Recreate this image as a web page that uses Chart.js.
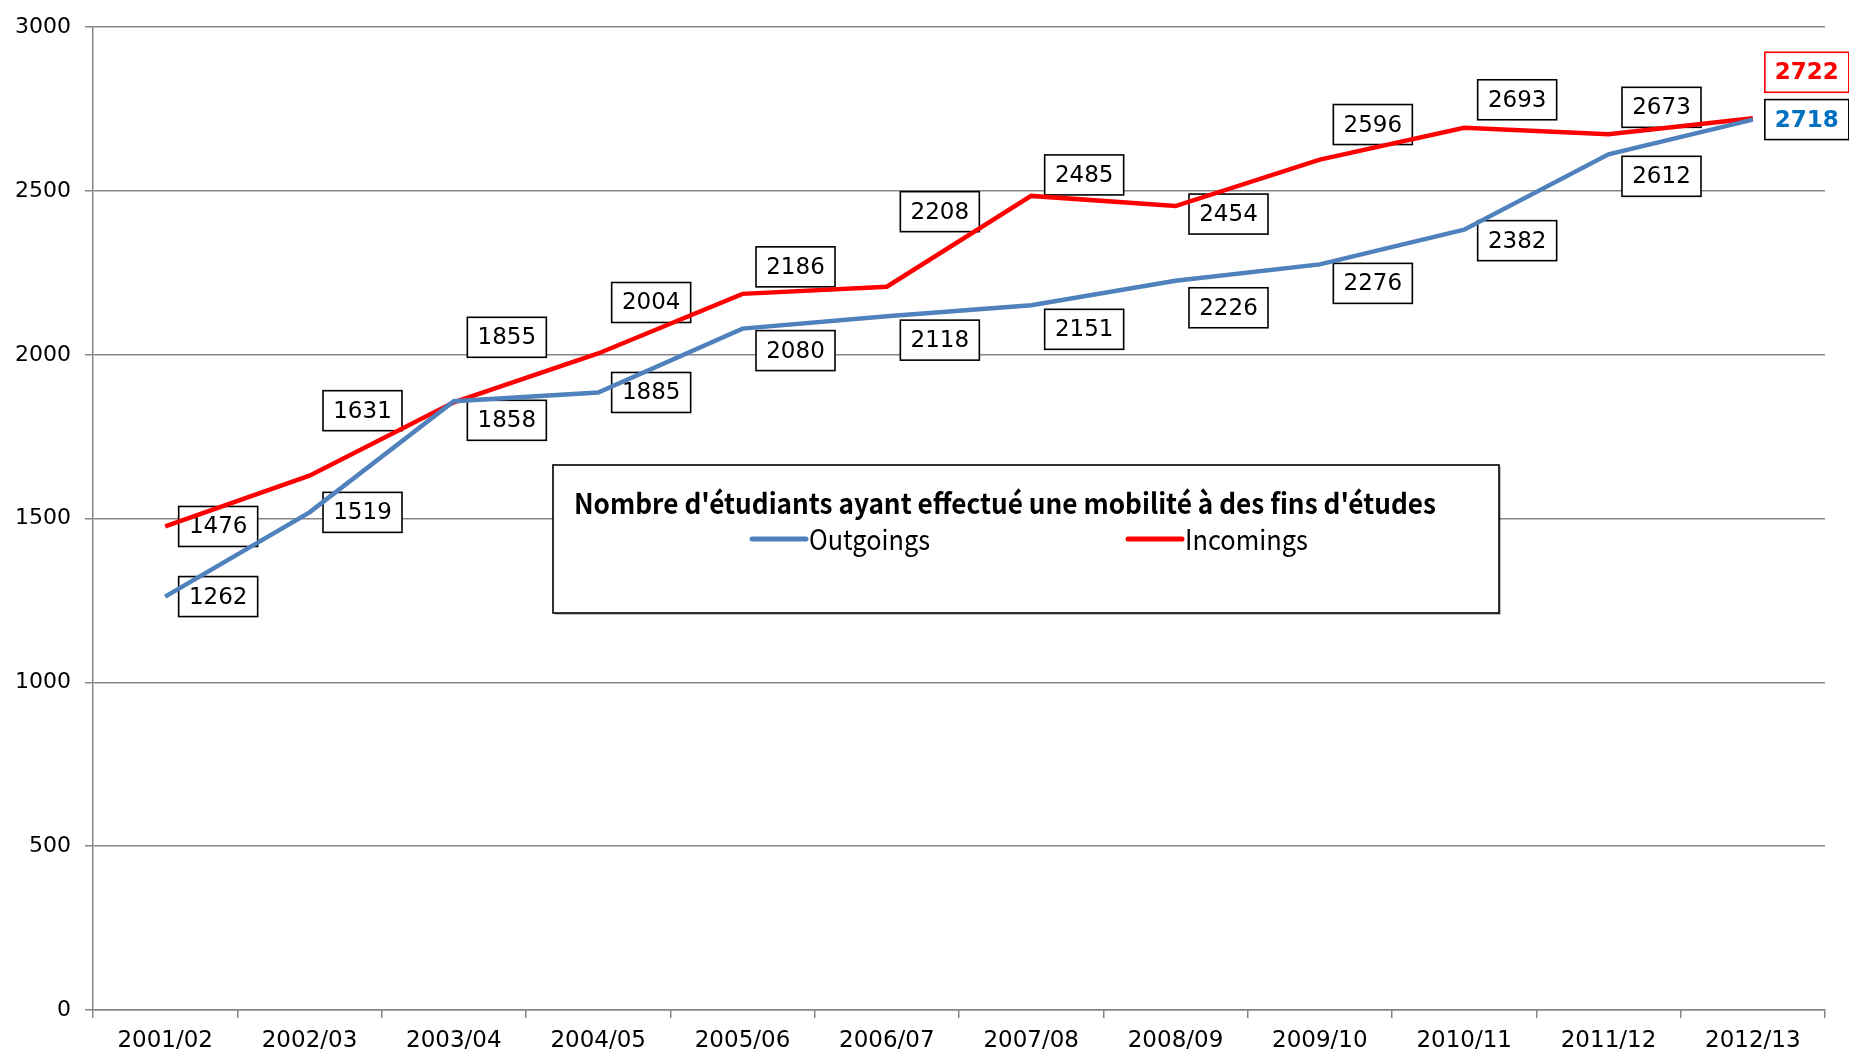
<!DOCTYPE html>
<html>
<head>
<meta charset="utf-8">
<script src="https://cdn.jsdelivr.net/npm/chart.js@4"></script>
<style>
  html, body { margin: 0; padding: 0; background: #fff; }
  #wrap { width: 1849px; height: 1056px; }
</style>
</head>
<body>
<div id="wrap"><canvas id="trendChart" width="1849" height="1056"></canvas></div>
<script>
const years = ["2001/02", "2002/03", "2003/04", "2004/05", "2005/06", "2006/07",
               "2007/08", "2008/09", "2009/10", "2010/11", "2011/12", "2012/13"];
const outgoings = [1262, 1519, 1858, 1885, 2080, 2118, 2151, 2226, 2276, 2382, 2612, 2718];
const incomings = [1476, 1631, 1855, 2004, 2186, 2208, 2485, 2454, 2596, 2693, 2673, 2722];
const yTicks = [0, 500, 1000, 1500, 2000, 2500, 3000];
const legendTitle = "Nombre d'étudiants ayant effectué une mobilité à des fins d'études";

// vertical shift of each data label box (px), they all sit a bit right of the point
const outShift = [0, 0, 19, 0, 22, 24, 24, 27, 19, 11, 22, 0];
const inShift = [0, -65, -65, -51, -27, -75, -21, 8, -35, -28, -27, -46];

const numFont = '"DejaVu Sans", sans-serif';
const textFont = '"Noto Sans CJK JP", "DejaVu Sans", sans-serif';

// draw text squeezed/stretched to a given width (mimics the condensed office font)
function fitText(ctx, text, x, y, width) {
    const w = ctx.measureText(text).width;
    ctx.save();
    ctx.translate(x, y);
    ctx.scale(width / w, 1);
    ctx.fillText(text, 0, 0);
    ctx.restore();
}

function drawBox(ctx, cx, cy, text, opts) {
    ctx.font = (opts.bold ? "bold " : "") + "23px " + numFont;
    const w = opts.w || 79, h = 40;
    ctx.fillStyle = "#fff";
    ctx.fillRect(cx - w / 2, cy - h / 2, w, h);
    ctx.lineWidth = 1.6;
    ctx.strokeStyle = opts.border || "#000";
    ctx.strokeRect(cx - w / 2, cy - h / 2, w, h);
    ctx.fillStyle = opts.color || "#000";
    ctx.textAlign = "center";
    ctx.textBaseline = "middle";
    ctx.fillText(text, cx, cy + 1);
}

const labelPlugin = {
    id: "labelBoxes",
    beforeDatasetsDraw(chart) {
        const ctx = chart.ctx;
        ctx.save();

        // legend box inside the plot
        const lx = 553, ly = 465, lw = 946, lh = 148;
        ctx.fillStyle = "rgba(0,0,0,0.25)";
        ctx.fillRect(lx + 2, ly + 2, lw, lh);
        ctx.fillStyle = "#fff";
        ctx.fillRect(lx, ly, lw, lh);
        ctx.lineWidth = 1.6;
        ctx.strokeStyle = "#000";
        ctx.strokeRect(lx, ly, lw, lh);
        ctx.fillStyle = "#000";
        ctx.textAlign = "left";
        ctx.textBaseline = "middle";
        ctx.font = "bold 28px " + textFont;
        fitText(ctx, legendTitle, 574, 503, 862);
        const items = [[752, 0, 121], [1128, 1, 123]];
        items.forEach(([x, di, tw]) => {
            const ds = chart.data.datasets[di];
            ctx.strokeStyle = ds.borderColor;
            ctx.lineWidth = 5;
            ctx.lineCap = "round";
            ctx.beginPath();
            ctx.moveTo(x, 539);
            ctx.lineTo(x + 54, 539);
            ctx.stroke();
            ctx.fillStyle = "#000";
            ctx.font = "28px " + textFont;
            fitText(ctx, ds.label, x + 57, 539, tw);
        });

        // data labels
        const sets = [[0, outShift], [1, inShift]];
        sets.forEach(([di, shift]) => {
            const meta = chart.getDatasetMeta(di);
            const vals = chart.data.datasets[di].data;
            meta.data.forEach((pt, j) => {
                const last = j === vals.length - 1;
                let opts = {};
                if (last) {
                    opts = di === 0
                        ? { bold: true, color: "#0070C0", w: 84 }
                        : { bold: true, color: "#FF0000", border: "#FF0000", w: 84 };
                }
                const dx = last ? 54 : 53;
                drawBox(ctx, pt.x + dx, pt.y + shift[j], String(vals[j]), opts);
            });
        });
        ctx.restore();
    }
};

window.onload = function () {
    const ctx = document.getElementById("trendChart").getContext("2d");
    new Chart(ctx, {
        type: "line",
        data: {
            labels: years,
            datasets: [
                {
                    label: "Outgoings",
                    data: outgoings,
                    borderColor: "#4F81BD",
                    borderWidth: 4.5,
                    pointRadius: 0,
                    tension: 0,
                    fill: false
                },
                {
                    label: "Incomings",
                    data: incomings,
                    borderColor: "#FF0000",
                    borderWidth: 4.5,
                    pointRadius: 0,
                    tension: 0,
                    fill: false
                }
            ]
        },
        options: {
            responsive: false,
            animation: false,
            devicePixelRatio: 1,
            layout: { padding: { top: 21, right: 24, left: 0, bottom: 0 } },
            plugins: {
                legend: { display: false },
                tooltip: { enabled: false }
            },
            scales: {
                x: {
                    offset: true,
                    grid: {
                        offset: true,
                        drawOnChartArea: false,
                        drawTicks: true,
                        tickLength: 8,
                        color: "#868686",
                        lineWidth: 1.5
                    },
                    border: { color: "#868686", width: 1.5 },
                    ticks: {
                        color: "#000",
                        font: { family: numFont, size: 23 },
                        maxRotation: 0,
                        padding: 9
                    },
                    afterFit(scale) { scale.height = 46; }
                },
                y: {
                    min: 0,
                    max: 3000,
                    afterBuildTicks(scale) { scale.ticks = yTicks.map(v => ({ value: v })); },
                    grid: {
                        color: "#868686",
                        lineWidth: 1.5,
                        drawTicks: true,
                        tickLength: 8
                    },
                    border: { color: "#868686", width: 1.5 },
                    ticks: {
                        color: "#000",
                        font: { family: numFont, size: 22 },
                        padding: 14,
                        callback: v => String(v)
                    },
                    afterFit(scale) { scale.width = 93; }
                }
            }
        },
        plugins: [labelPlugin]
    });
};
</script>
</body>
</html>
